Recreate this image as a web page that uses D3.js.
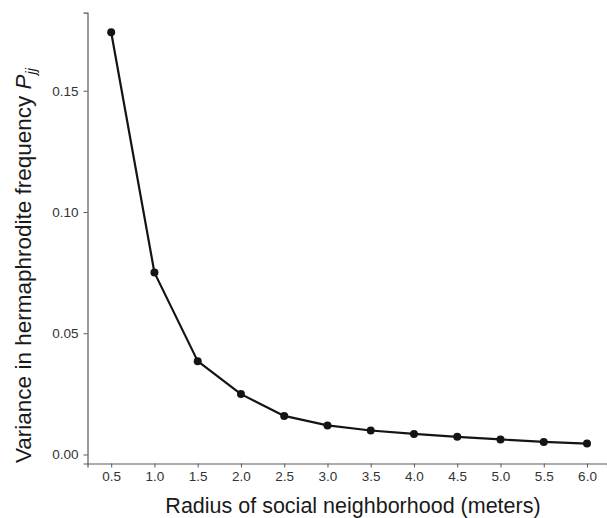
<!DOCTYPE html>
<html>
<head>
<meta charset="utf-8">
<script src="https://cdn.jsdelivr.net/npm/d3@7"></script>
<style>
  html, body { margin: 0; padding: 0; background: #fff; }
  svg { display: block; }
  text { font-family: "Liberation Sans", Arial, Helvetica, sans-serif; }
</style>
</head>
<body>
<svg id="chart" width="607" height="518"></svg>
<script>
// Data
const radius = [0.5, 1.0, 1.5, 2.0, 2.5, 3.0, 3.5, 4.0, 4.5, 5.0, 5.5, 6.0];
const variance = [0.1741, 0.0750, 0.0385, 0.0249, 0.0159, 0.0120, 0.0099, 0.0085, 0.0073, 0.0062, 0.0052, 0.0045];
const xTicks = [0.5, 1.0, 1.5, 2.0, 2.5, 3.0, 3.5, 4.0, 4.5, 5.0, 5.5, 6.0];
const yTicks = [0.00, 0.05, 0.10, 0.15];
const xTitle = "Radius of social neighborhood (meters)";
const yTitle = "Variance in hermaphrodite frequency ";

const svg = d3.select("#chart");
const mLeft = 87.5, mRight = 607, mTop = 12.7, mBottom = 463.5;

const x = d3.scaleLinear().domain([0.2262, 6.231]).range([mLeft, mRight]);
const y = d3.scaleLinear().domain([-0.00371, 0.18218]).range([mBottom, mTop]);

const axisColor = "#5a5a5a";
const labelColor = "#333";

// X axis
const gx = svg.append("g").attr("transform", `translate(0,${mBottom})`)
  .call(d3.axisBottom(x).tickValues(xTicks).tickFormat(d3.format(".1f")).tickSizeOuter(0).tickSize(4).tickPadding(4));
// Y axis
const gy = svg.append("g").attr("transform", `translate(${mLeft},0)`)
  .call(d3.axisLeft(y).tickValues(yTicks).tickFormat(d3.format(".2f")).tickSizeOuter(0).tickSize(4).tickPadding(5));

[gx, gy].forEach(g => {
  g.select(".domain").attr("stroke", axisColor).attr("stroke-width", 1.2);
  g.selectAll(".tick line").attr("stroke", axisColor).attr("stroke-width", 1);
  g.selectAll(".tick text").attr("fill", labelColor).attr("font-size", 13.5)
    .style("font-family", "'Liberation Sans', Arial, sans-serif");
});

// Line
const line = d3.line().x((d, i) => x(radius[i])).y(d => y(d));
svg.append("path").datum(variance)
  .attr("fill", "none").attr("stroke", "#141414").attr("stroke-width", 2.2)
  .attr("stroke-linejoin", "round")
  .attr("d", line);

// Points
svg.selectAll("circle.pt").data(variance).enter().append("circle")
  .attr("class", "pt")
  .attr("cx", (d, i) => x(radius[i])).attr("cy", d => y(d))
  .attr("r", 4).attr("fill", "#141414");

// X title
svg.append("text").attr("x", 353).attr("y", 513)
  .attr("text-anchor", "middle").attr("font-size", 21.5).attr("fill", "#1a1a1a")
  .text(xTitle);

// Y title
const yt = svg.append("text")
  .attr("transform", "translate(30.5,463) rotate(-90)")
  .attr("text-anchor", "start").attr("font-size", 22.5).attr("fill", "#1a1a1a");
yt.append("tspan").text(yTitle);
yt.append("tspan").attr("font-style", "italic").text("P");
yt.append("tspan").attr("font-style", "italic").attr("font-size", 14.5).attr("dy", 5).text("jj");
</script>
</body>
</html>
